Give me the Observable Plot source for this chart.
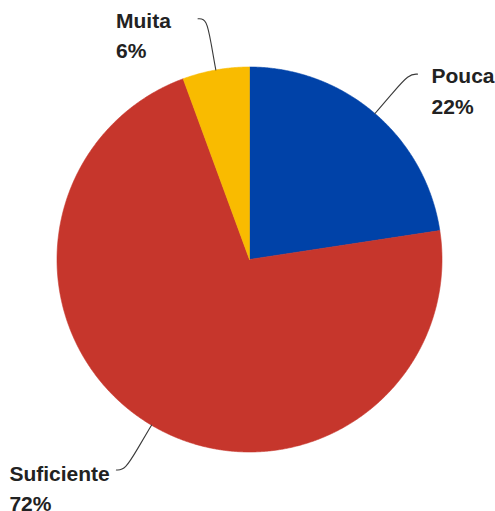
<!DOCTYPE html>
<html>
<head>
<meta charset="utf-8">
<script src="https://cdn.jsdelivr.net/npm/d3@7"></script>
<script src="https://cdn.jsdelivr.net/npm/@observablehq/plot@0.6"></script>
<style>
  html, body { margin: 0; padding: 0; background: #fff; }
</style>
</head>
<body>
<div id="chart"></div>
<script>
// ---- data ----
const categories = ["Pouca", "Suficiente", "Muita"];
const values = [22.6, 71.8, 5.6];
const valueLabels = ["22%", "72%", "6%"];
const colors = ["#0042a8", "#c6362c", "#f9bb00"];

// ---- derived geometry (unit circle in data space) ----
const arcs = d3.pie().sort(null).value(d => d)(values);
const slicePts = [];
arcs.forEach((a, i) => {
  const label = categories[i];
  slicePts.push({label, x: 0, y: 0});
  const n = Math.max(2, Math.ceil((a.endAngle - a.startAngle) / 0.005));
  for (let k = 0; k <= n; k++) {
    const t = a.startAngle + (a.endAngle - a.startAngle) * k / n;
    slicePts.push({label, x: Math.sin(t), y: Math.cos(t)});
  }
  slicePts.push({label, x: 0, y: 0});
});

const leaderPts = [];
const ends = [];
arcs.forEach((a, i) => {
  const label = categories[i];
  const m = (a.startAngle + a.endAngle) / 2;
  const s = Math.sin(m) >= 0 ? 1 : -1;
  const pt = r => ({label, x: Math.sin(m) * r, y: Math.cos(m) * r});
  const p0 = pt(1.0), p1 = pt(1.14), p2 = pt(1.27);
  const p3 = {label, x: p2.x + s * 0.045, y: p2.y};
  leaderPts.push(p0, p1, p2, p3);
  ends.push({label, pct: valueLabels[i], x: p3.x, y: p3.y, side: s});
});

const textStyle = {
  x: "x", y: "y",
  text: d => d.label + "\n" + d.pct,
  lineAnchor: "top",
  lineHeight: 1.46,
  fontSize: 21,
  fontWeight: "bold",
  fill: "#222",
  textAnchor: "start"
};

const chart = Plot.plot({
  width: 495,
  height: 511,
  marginLeft: 56.5,
  marginRight: 53.5,
  marginTop: 66.5,
  marginBottom: 59.5,
  x: {domain: [-1, 1], axis: null},
  y: {domain: [-1, 1], axis: null},
  color: {domain: categories, range: colors},
  style: {fontFamily: "'Liberation Sans', Arial, sans-serif", background: "#fff", overflow: "visible"},
  marks: [
    Plot.line(slicePts, {x: "x", y: "y", z: "label", fill: "label", stroke: "label", strokeWidth: 0.6, curve: "linear"}),
    Plot.line(leaderPts, {x: "x", y: "y", z: "label", stroke: "#3a3a3a", strokeWidth: 1.1, curve: "basis"}),
    Plot.text(ends.filter(d => d.label === "Pouca"), {...textStyle, dx: 14, dy: -13}),
    Plot.text(ends.filter(d => d.label === "Muita"), {...textStyle, dx: -82, dy: -13}),
    Plot.text(ends.filter(d => d.label === "Suficiente"), {...textStyle, dx: -107, dy: -11})
  ]
});
document.getElementById("chart").appendChild(chart);
</script>
</body>
</html>
